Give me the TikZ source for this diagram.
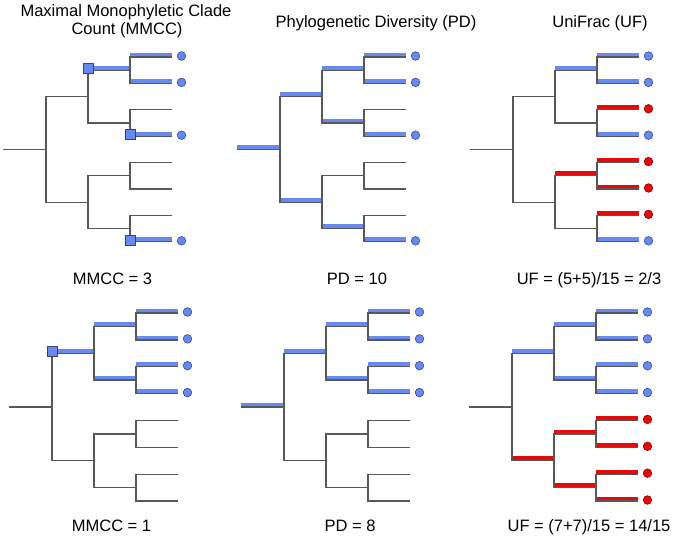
\documentclass[tikz,border=0pt]{standalone}
\usepackage{fontspec}
\setmainfont{Liberation Sans}
\usetikzlibrary{calc}
\definecolor{gry}{RGB}{88,88,88}
\definecolor{bl}{RGB}{104,138,238}
\definecolor{bldk}{RGB}{52,72,150}
\definecolor{rd}{RGB}{228,10,10}
\definecolor{rddk}{RGB}{150,0,0}
\definecolor{sqdk}{RGB}{60,66,100}
% tree coordinates: #1 prefix, #2 x of root stem start, #3 y of top leaf, #4 leaf spacing
\newcommand\mktree[4]{%
  \coordinate (#1r) at (#2, {#3+3.5*#4});
  \coordinate (#1n) at ({#2+43}, {#3+3.5*#4});
  \coordinate (#1a) at ({#2+85}, {#3+1.5*#4});
  \coordinate (#1b) at ({#2+85}, {#3+5.5*#4});
  \coordinate (#1a1) at ({#2+127}, {#3+0.5*#4});
  \coordinate (#1a2) at ({#2+127}, {#3+2.5*#4});
  \coordinate (#1b1) at ({#2+127}, {#3+4.5*#4});
  \coordinate (#1b2) at ({#2+127}, {#3+6.5*#4});
  \foreach \k in {1,...,8}{\coordinate (#1l\k) at ({#2+169}, {#3+(\k-1)*#4});}
}
% gray skeleton of a tree
\newcommand\grytree[1]{%
  \draw[gl] (#1r) -- (#1n);
  \draw[gl] (#1a) -- (#1n |- #1a) -- (#1n |- #1b) -- (#1b);
  \draw[gl] (#1a1) -- (#1a |- #1a1) -- (#1a |- #1a2) -- (#1a2);
  \draw[gl] (#1b1) -- (#1b |- #1b1) -- (#1b |- #1b2) -- (#1b2);
  \draw[gl] (#1l1) -- (#1a1 |- #1l1) -- (#1a1 |- #1l2) -- (#1l2);
  \draw[gl] (#1l3) -- (#1a2 |- #1l3) -- (#1a2 |- #1l4) -- (#1l4);
  \draw[gl] (#1l5) -- (#1b1 |- #1l5) -- (#1b1 |- #1l6) -- (#1l6);
  \draw[gl] (#1l7) -- (#1b2 |- #1l7) -- (#1b2 |- #1l8) -- (#1l8);
}
% coloured bar on the edge from parent #2 to child #3
\newcommand\cb[3]{\draw[#1] (#2 |- #3) -- (#3);}
% leaf dot
\newcommand\ldot[3]{\node[#1] (#2d) at ($(#2)+(9.5,-1)$) {};}
\newcommand\sqm[3]{\node[sq] (#3) at ($(#1 |- #2)+(0,-1.5)$) {};}
\begin{document}
\begin{tikzpicture}[x=1pt,y=-1pt,
  gl/.style={draw=gry, line width=1.3pt},
  bbar/.style={draw=bl, line width=5pt, transform canvas={yshift=1.8pt}},
  rbar/.style={draw=rd, line width=5pt, transform canvas={yshift=1.8pt}},
  bdot/.style={circle, fill=bl, draw=bldk, line width=0.6pt, minimum size=8.6pt, inner sep=0pt},
  rdot/.style={circle, fill=rd, draw=rddk, line width=0.6pt, minimum size=8.6pt, inner sep=0pt},
  sq/.style={rectangle, fill=bl, draw=sqdk, line width=0.8pt, minimum size=10pt, inner sep=0pt},
  txt/.style={inner sep=0pt, anchor=base, font=\fontsize{16.5}{19}\selectfont}]
\useasboundingbox (0,0) rectangle (673,537);
\fill[white] (0,0) rectangle (673,537);

\mktree{p}{3}{57}{26.4}
\mktree{q}{237}{57}{26.4}
\mktree{s}{470}{57}{26.4}
\mktree{u}{9}{313}{26.86}
\mktree{v}{241}{313}{26.86}
\mktree{w}{469}{313}{26.86}

% ---- coloured bars ----
% MMCC = 3
\cb{bbar}{pa}{pa1} \cb{bbar}{pa1}{pl1} \cb{bbar}{pa1}{pl2} \cb{bbar}{pa2}{pl4} \cb{bbar}{pb2}{pl8}
% PD = 10
\draw[bbar] (qr) -- (qn);
\cb{bbar}{qn}{qa} \cb{bbar}{qa}{qa1} \cb{bbar}{qa}{qa2} \cb{bbar}{qn}{qb} \cb{bbar}{qb}{qb2}
\cb{bbar}{qa1}{ql1} \cb{bbar}{qa1}{ql2} \cb{bbar}{qa2}{ql4} \cb{bbar}{qb2}{ql8}
% UF top
\cb{bbar}{sa}{sa1} \cb{bbar}{sa1}{sl1} \cb{bbar}{sa1}{sl2} \cb{bbar}{sa2}{sl4} \cb{bbar}{sb2}{sl8}
\cb{rbar}{sa2}{sl3} \cb{rbar}{sb}{sb1} \cb{rbar}{sb1}{sl5} \cb{rbar}{sb1}{sl6} \cb{rbar}{sb2}{sl7}
% MMCC = 1
\cb{bbar}{un}{ua} \cb{bbar}{ua}{ua1} \cb{bbar}{ua}{ua2}
\cb{bbar}{ua1}{ul1} \cb{bbar}{ua1}{ul2} \cb{bbar}{ua2}{ul3} \cb{bbar}{ua2}{ul4}
% PD = 8
\draw[bbar] (vr) -- (vn);
\cb{bbar}{vn}{va} \cb{bbar}{va}{va1} \cb{bbar}{va}{va2}
\cb{bbar}{va1}{vl1} \cb{bbar}{va1}{vl2} \cb{bbar}{va2}{vl3} \cb{bbar}{va2}{vl4}
% UF bottom
\cb{bbar}{wn}{wa} \cb{bbar}{wa}{wa1} \cb{bbar}{wa}{wa2}
\cb{bbar}{wa1}{wl1} \cb{bbar}{wa1}{wl2} \cb{bbar}{wa2}{wl3} \cb{bbar}{wa2}{wl4}
\cb{rbar}{wn}{wb} \cb{rbar}{wb}{wb1} \cb{rbar}{wb}{wb2}
\cb{rbar}{wb1}{wl5} \cb{rbar}{wb1}{wl6} \cb{rbar}{wb2}{wl7} \cb{rbar}{wb2}{wl8}

% ---- gray skeletons ----
\grytree{p} \grytree{q} \grytree{s} \grytree{u} \grytree{v} \grytree{w}

% ---- squares ----
\sqm{pa}{pa1}{ps1} \sqm{pa2}{pl4}{ps2} \sqm{pb2}{pl8}{ps3}
\sqm{un}{ua}{us1}

% ---- leaf dots ----
\ldot{bdot}{pl1}{} \ldot{bdot}{pl2}{} \ldot{bdot}{pl4}{} \ldot{bdot}{pl8}{}
\ldot{bdot}{ql1}{} \ldot{bdot}{ql2}{} \ldot{bdot}{ql4}{} \ldot{bdot}{ql8}{}
\ldot{bdot}{sl1}{} \ldot{bdot}{sl2}{} \ldot{rdot}{sl3}{} \ldot{bdot}{sl4}{}
\ldot{rdot}{sl5}{} \ldot{rdot}{sl6}{} \ldot{rdot}{sl7}{} \ldot{bdot}{sl8}{}
\ldot{bdot}{ul1}{} \ldot{bdot}{ul2}{} \ldot{bdot}{ul3}{} \ldot{bdot}{ul4}{}
\ldot{bdot}{vl1}{} \ldot{bdot}{vl2}{} \ldot{bdot}{vl3}{} \ldot{bdot}{vl4}{}
\ldot{bdot}{wl1}{} \ldot{bdot}{wl2}{} \ldot{bdot}{wl3}{} \ldot{bdot}{wl4}{}
\ldot{rdot}{wl5}{} \ldot{rdot}{wl6}{} \ldot{rdot}{wl7}{} \ldot{rdot}{wl8}{}

% ---- titles and labels ----
\node[txt] (t1a) at (126,16.5) {Maximal Monophyletic Clade};
\node[txt] (t1b) at (127,34.5) {Count (MMCC)};
\node[txt] (t2) at (376,27.5) {Phylogenetic Diversity (PD)};
\node[txt] (t3) at (600,27.5) {UniFrac (UF)};
\node[txt] (m1) at (112.5,285) {MMCC = 3};
\node[txt] (m2) at (357,285) {PD = 10};
\node[txt] (m3) at (589,285) {UF = (5+5)/15 = 2/3};
\node[txt] (m4) at (111.5,532) {MMCC = 1};
\node[txt] (m5) at (350,532) {PD = 8};
\node[txt] (m6) at (589,532) {UF = (7+7)/15 = 14/15};
\end{tikzpicture}
\end{document}
